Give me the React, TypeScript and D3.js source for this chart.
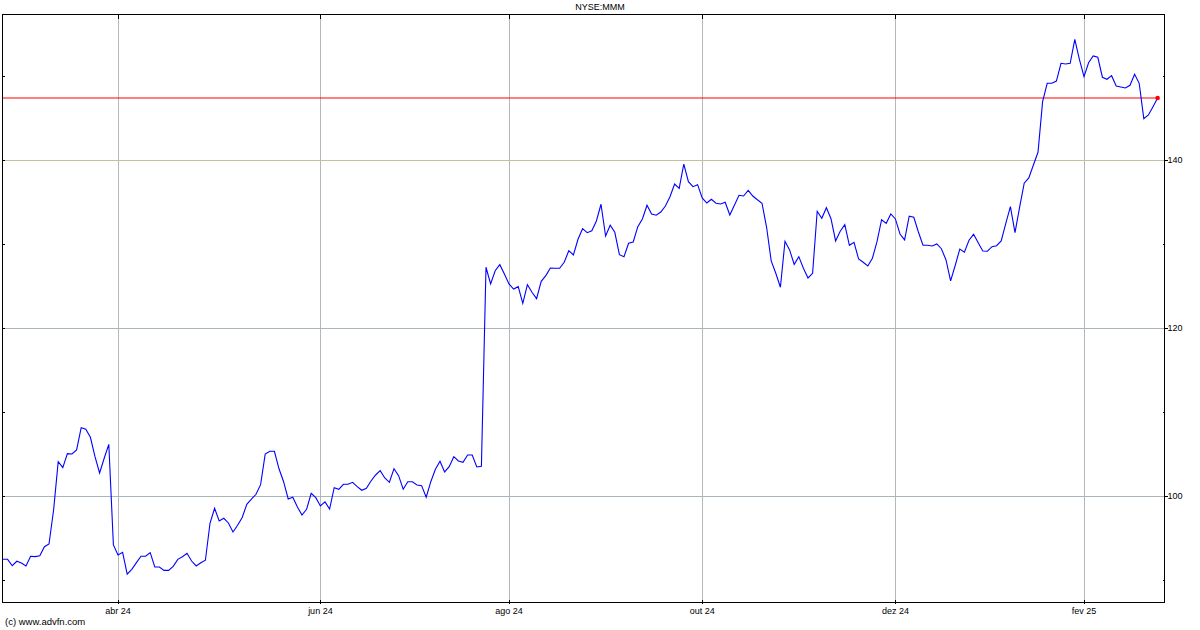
import React from "react";
import * as d3 from "d3";

const title = "NYSE:MMM";
const copyright = "(c) www.advfn.com";

// Daily closes (trading-day index)
const closes = [
  92.46, 92.46, 91.70, 92.23, 92.02, 91.67, 92.82, 92.78, 92.89, 93.96,
  94.29, 98.33, 104.08, 103.37, 105.04, 105.00, 105.48, 108.13, 107.94, 106.99,
  104.68, 102.74, 104.49, 106.15, 94.17, 92.98, 93.30, 90.71, 91.27, 92.06,
  92.82, 92.82, 93.25, 91.55, 91.55, 91.15, 91.15, 91.63, 92.46, 92.77,
  93.18, 92.26, 91.67, 92.06, 92.35, 96.75, 98.54, 97.02, 97.35, 96.79,
  95.71, 96.51, 97.44, 99.01, 99.62, 100.20, 101.35, 104.98, 105.32, 105.32,
  103.24, 101.70, 99.64, 99.85, 98.69, 97.74, 98.42, 100.32, 99.80, 98.81,
  99.29, 98.45, 100.99, 100.80, 101.39, 101.39, 101.63, 101.11, 100.68, 100.92,
  101.79, 102.50, 103.01, 102.14, 101.63, 103.25, 102.42, 100.80, 101.70, 101.70,
  101.31, 101.23, 99.85, 101.70, 103.18, 104.13, 102.86, 103.49, 104.68, 104.17,
  104.01, 104.88, 104.88, 103.45, 103.54, 127.23, 125.24, 126.82, 127.54, 126.43,
  125.24, 124.64, 124.92, 122.94, 125.15, 124.25, 123.49, 125.56, 126.23, 127.14,
  127.11, 127.11, 127.82, 129.20, 128.69, 130.56, 131.82, 131.35, 131.58, 132.74,
  134.73, 130.95, 132.23, 131.39, 128.73, 128.49, 130.08, 130.24, 132.06, 132.98,
  134.61, 133.57, 133.42, 133.81, 134.52, 135.63, 137.14, 136.63, 139.52, 137.42,
  136.82, 137.06, 135.48, 134.88, 135.32, 134.85, 134.76, 134.96, 133.45, 134.62,
  135.80, 135.71, 136.37, 135.71, 135.27, 134.85, 131.99, 127.98, 126.51, 124.85,
  130.32, 129.29, 127.58, 128.49, 127.11, 125.95, 126.51, 133.89, 133.06, 134.32,
  133.01, 130.36, 131.51, 132.30, 129.85, 130.20, 128.21, 127.82, 127.38, 128.30,
  130.27, 132.89, 132.46, 133.57, 132.98, 131.19, 130.48, 133.30, 133.18, 131.43,
  129.85, 129.85, 129.76, 130.00, 129.44, 128.10, 125.60, 127.44, 129.40, 129.02,
  130.45, 131.15, 130.15, 129.17, 129.14, 129.68, 129.80, 130.36, 132.46, 134.44,
  131.35, 134.37, 137.23, 137.86, 139.40, 140.92, 146.94, 149.13, 149.13, 149.40,
  151.51, 151.43, 151.51, 154.37, 151.99, 149.92, 151.58, 152.38, 152.23, 149.85,
  149.61, 150.04, 148.81, 148.69, 148.57, 148.89, 150.20, 149.13, 144.92, 145.36,
  146.35, 147.38,
];

const monthLabels = ["abr 24", "jun 24", "ago 24", "out 24", "dez 24", "fev 25"];
const monthIndex = [25, 69, 110, 152, 194, 235];
const majorTicks = [100, 120, 140];
const minorTicks = [90, 110, 130, 150];
const lastPrice = closes[closes.length - 1];

const W = 1200;
const H = 630;
const L = 2.5;
const R = 1164.5;
const T = 14.5;
const B = 602.5;

export default function App() {
  const x = d3.scaleLinear().domain([0, closes.length - 1]).range([3, 1157.6]);
  const y = d3.scaleLinear().domain([87.32, 157.32]).range([B, T]);
  const line = d3
    .line<number>()
    .x((_, i) => x(i))
    .y((d) => y(d));
  const font = "'Liberation Sans', Arial, sans-serif";
  const snap = (v: number) => Math.round(v) + 0.5;
  const hColor = (v: number) => (v === 140 ? "#c4bf9e" : "#a9b7bd");

  return (
    <div style={{ position: "absolute", left: 0, top: 0 }}>
      <svg width={W} height={H} style={{ display: "block", background: "#fff" }}>
        <rect x={0} y={0} width={W} height={H} fill="#fff" />
        {/* vertical gridlines */}
        {monthIndex.map((m, i) => (
          <line
            key={"vg" + i}
            x1={snap(x(m))}
            x2={snap(x(m))}
            y1={T}
            y2={B}
            stroke="#b3b8bb"
            strokeWidth={1}
            shapeRendering="crispEdges"
          />
        ))}
        {/* horizontal gridlines */}
        {majorTicks.map((v) => (
          <line
            key={"hg" + v}
            x1={L}
            x2={R}
            y1={snap(y(v))}
            y2={snap(y(v))}
            stroke={hColor(v)}
            strokeWidth={1}
            shapeRendering="crispEdges"
          />
        ))}
        {/* last price line */}
        <line
          x1={L}
          x2={x(closes.length - 1)}
          y1={y(lastPrice)}
          y2={y(lastPrice)}
          stroke="#ff0000"
          strokeWidth={1.2}
        />
        {/* price line */}
        <path d={line(closes) || ""} fill="none" stroke="#0000ff" strokeWidth={1.1} />
        <circle cx={x(closes.length - 1)} cy={y(lastPrice)} r={2.3} fill="#ff0000" />
        {/* border */}
        <rect
          x={L}
          y={T}
          width={R - L}
          height={B - T}
          fill="none"
          stroke="#000"
          strokeWidth={1}
          shapeRendering="crispEdges"
        />
        {/* x ticks */}
        {monthIndex.map((m, i) => (
          <g key={"xt" + i}>
            <line x1={snap(x(m))} x2={snap(x(m))} y1={T} y2={T + 4} stroke="#000" shapeRendering="crispEdges" />
            <line x1={snap(x(m))} x2={snap(x(m))} y1={B - 3} y2={B + 1} stroke="#000" shapeRendering="crispEdges" />
            <text
              x={x(m)}
              y={614}
              fontFamily={font}
              fontSize={9}
              textAnchor="middle"
              fill="#000"
            >
              {monthLabels[i]}
            </text>
          </g>
        ))}
        {/* y ticks */}
        {majorTicks.map((v) => (
          <g key={"yt" + v}>
            <line x1={R} x2={R + 3} y1={snap(y(v))} y2={snap(y(v))} stroke="#000" shapeRendering="crispEdges" />
            <line x1={L} x2={L + 2} y1={snap(y(v))} y2={snap(y(v))} stroke="#000" shapeRendering="crispEdges" />
            <text x={1167.5} y={y(v) + 3.3} fontFamily={font} fontSize={9} fill="#000">
              {v}
            </text>
          </g>
        ))}
        {minorTicks.map((v) => (
          <g key={"ym" + v}>
            <line x1={R - 2} x2={R} y1={snap(y(v))} y2={snap(y(v))} stroke="#000" shapeRendering="crispEdges" />
            <line x1={L} x2={L + 2} y1={snap(y(v))} y2={snap(y(v))} stroke="#000" shapeRendering="crispEdges" />
          </g>
        ))}
        <text x={600} y={10} fontFamily={font} fontSize={9} textAnchor="middle" fill="#000">
          {title}
        </text>
        <text x={5} y={625} fontFamily={font} fontSize={9.5} fill="#000">
          {copyright}
        </text>
      </svg>
    </div>
  );
}
